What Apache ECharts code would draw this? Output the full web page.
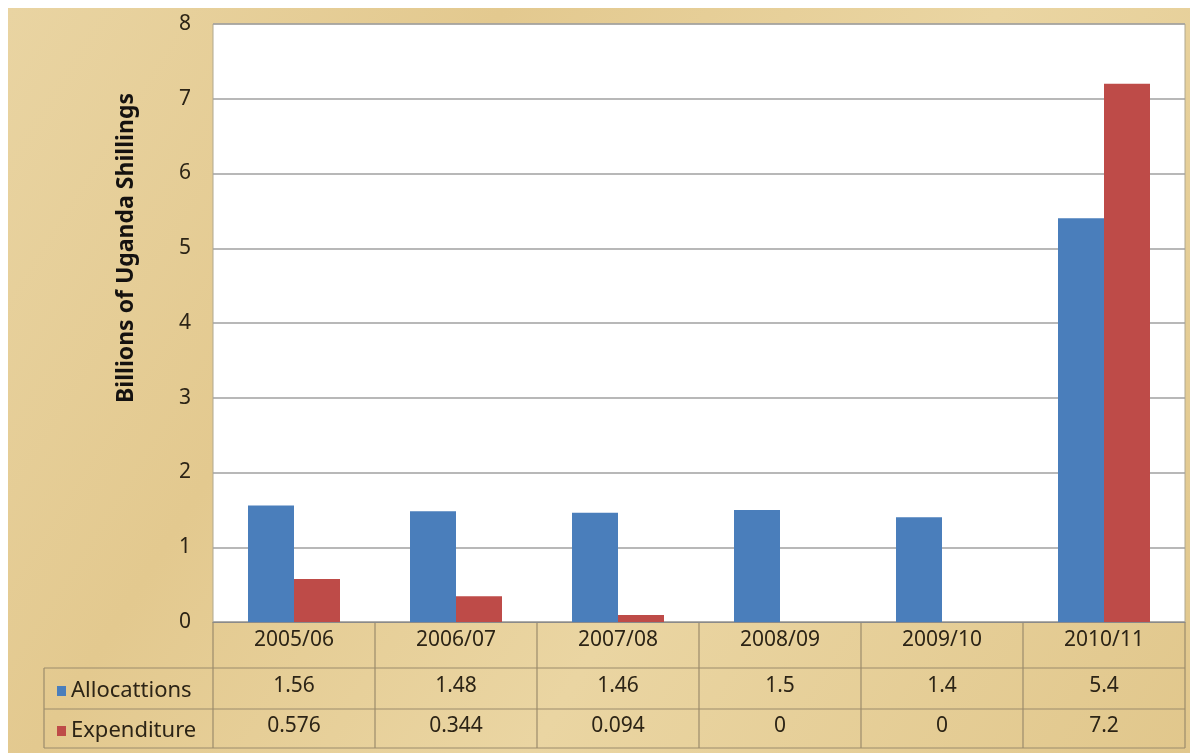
<!DOCTYPE html>
<html>
<head>
<meta charset="utf-8">
<script src="https://cdn.jsdelivr.net/npm/echarts@6/dist/echarts.min.js"></script>
<style>
html,body{margin:0;padding:0;background:#fff;}
#chart{width:1190px;height:753px;}
</style>
</head>
<body>
<div id="chart"></div>
<script>
const categories = ['2005/06','2006/07','2007/08','2008/09','2009/10','2010/11'];
const allocations = [1.56, 1.48, 1.46, 1.5, 1.4, 5.4];
const expenditure = [0.576, 0.344, 0.094, 0, 0, 7.2];
const allocLabels = ['1.56','1.48','1.46','1.5','1.4','5.4'];
const expLabels = ['0.576','0.344','0.094','0','0','7.2'];
const seriesNames = ['Allocattions','Expenditure'];
const yTitle = 'Billions of Uganda Shillings';

const FONT = '"Noto Sans", "Open Sans", sans-serif';
const TXT = '#2c2416';
const LINE = '#9b8b6c';
const FS = 21;

const G = {left:213, top:24, right:1185, bottom:622};
const tableLeft = 44, row1 = 668, row2 = 709, tableBottom = 748;

const chart = echarts.init(document.getElementById('chart'));

const graphics = [
  {type:'rect', z:-10, silent:true, shape:{x:8,y:8,width:1182,height:745},
   style:{fill:new echarts.graphic.LinearGradient(0,0,1,1,[
     {offset:0,color:'#e9d4a2'},{offset:0.3,color:'#e3c98f'},
     {offset:0.6,color:'#ead5a2'},{offset:1,color:'#e1c78c'}])}},
  {type:'text', rotation:Math.PI/2, x:126, y:248,
   style:{text:yTitle, font:'bold 23px ' + FONT, fill:'#151210', align:'center', verticalAlign:'middle'}}
];
const lineStyle = {stroke:LINE, lineWidth:1.2};
[row1,row2,tableBottom].forEach(y=>{
  graphics.push({type:'line', silent:true, shape:{x1:tableLeft,y1:y,x2:G.right,y2:y}, style:lineStyle});
});
graphics.push({type:'line', silent:true, shape:{x1:tableLeft,y1:row1,x2:tableLeft,y2:tableBottom}, style:lineStyle});
const colW = (G.right - G.left)/categories.length;
for (let k=0;k<=categories.length;k++){
  const x = G.left + k*colW;
  graphics.push({type:'line', silent:true, shape:{x1:x,y1:G.bottom,x2:x,y2:tableBottom}, style:lineStyle});
}

function tableAxis(data, margin){
  return {type:'category', data:data, gridIndex:0, position:'bottom',
    axisLine:{show:false}, axisTick:{show:false}, splitLine:{show:false},
    axisLabel:{margin:margin, fontSize:FS, fontFamily:FONT, color:TXT, interval:0}};
}

const legendText = {fontSize:22, fontFamily:FONT, color:TXT};

chart.setOption({
  animation:false,
  color:['#4a7ebb','#be4b48'],
  graphic:graphics,
  grid:{left:G.left, top:G.top, right:1190-G.right, bottom:753-G.bottom,
        show:true, backgroundColor:'#ffffff', borderColor:'#b0a890', borderWidth:1},
  legend:[
    {data:[seriesNames[0]], left:52, top:675, orient:'vertical', icon:'rect', itemWidth:9, itemHeight:10, itemGap:6,
     textStyle:legendText},
    {data:[seriesNames[1]], left:52, top:715, orient:'vertical', icon:'rect', itemWidth:9, itemHeight:10, itemGap:6,
     textStyle:legendText}
  ],
  xAxis:[
    {type:'category', data:categories,
     axisLine:{show:true, lineStyle:{color:'#8a8a8a', width:1}},
     axisTick:{show:false}, splitLine:{show:false},
     axisLabel:{margin:8, fontSize:FS, fontFamily:FONT, color:TXT, interval:0}},
    tableAxis(allocLabels, 54),
    tableAxis(expLabels, 94)
  ],
  yAxis:{type:'value', min:0, max:8, interval:1,
    axisLine:{show:false}, axisTick:{show:false},
    splitLine:{lineStyle:{color:'#a0a0a0', width:1.5}},
    axisLabel:{margin:22, fontSize:FS, fontFamily:FONT, color:TXT}},
  series:[
    {name:seriesNames[0], type:'bar', data:allocations, barWidth:46, barGap:'0%'},
    {name:seriesNames[1], type:'bar', data:expenditure, barWidth:46, barGap:'0%'}
  ]
});
</script>
</body>
</html>
